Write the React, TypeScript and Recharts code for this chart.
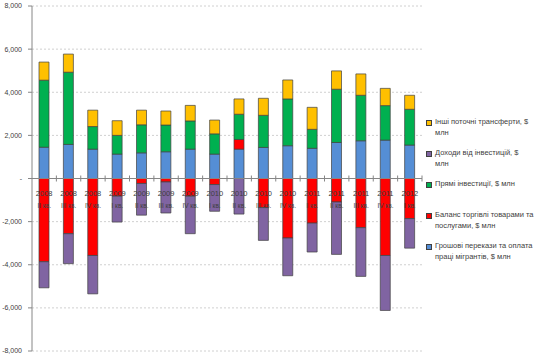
import { BarChart, Bar, XAxis, YAxis, CartesianGrid, ReferenceLine } from "recharts";

const years = ["2008", "2008", "2008", "2009", "2009", "2009", "2009", "2010", "2010", "2010", "2010", "2011", "2011", "2011", "2011", "2012"];
const quarters = ["II кв.", "III кв.", "IV кв.", "I кв.", "II кв.", "III кв.", "IV кв.", "I кв.", "II кв.", "III кв.", "IV кв.", "I кв.", "II кв.", "III кв.", "IV кв.", "I кв."];

// $ млн
const remittances = [1450, 1580, 1360, 1130, 1190, 1240, 1360, 1130, 1360, 1440, 1520, 1400, 1670, 1750, 1780, 1550];
const tradeBalance = [-3860, -2560, -3570, -820, -230, -160, -820, -280, 450, -1350, -2760, -2070, -1090, -2280, -3570, -1860];
const fdi = [3110, 3350, 1050, 870, 1300, 1240, 1310, 940, 1170, 1490, 2170, 880, 2470, 2110, 1600, 1660];
const investIncome = [-1210, -1390, -1780, -1200, -1470, -1440, -1740, -1240, -1650, -1520, -1750, -1340, -2430, -2260, -2550, -1370];
const otherTransfers = [840, 840, 760, 680, 680, 650, 720, 640, 710, 790, 880, 1020, 850, 990, 800, 650];

const yTicks = [-8000, -6000, -4000, -2000, 0, 2000, 4000, 6000, 8000];

const series = [
  { key: "remit", name: "Грошові перекази та оплата праці мігрантів, $ млн", color: "#558ED5", values: remittances },
  { key: "trade", name: "Баланс торгівлі товарами та послугами, $ млн", color: "#FF0000", values: tradeBalance },
  { key: "fdi", name: "Прямі інвестиції, $ млн", color: "#00B050", values: fdi },
  { key: "income", name: "Доходи від інвестицій, $ млн", color: "#8064A2", values: investIncome },
  { key: "other", name: "Інші поточні трансферти, $ млн", color: "#FFC000", values: otherTransfers },
];

const data = years.map((y, i) => {
  const row: any = { label: `${y} ${quarters[i]}`, year: y, quarter: quarters[i] };
  series.forEach((s) => (row[s.key] = s.values[i]));
  return row;
});

const W = 540;
const H = 358;
const X_AXIS_H = 1;
const MARGIN = { top: 6, right: 118, bottom: 6, left: 0 };
const Y_AXIS_W = 32;
const PLOT_W = W - MARGIN.left - MARGIN.right - Y_AXIS_W;
const PLOT_H = H - MARGIN.top - MARGIN.bottom - X_AXIS_H;
const ZERO_Y = MARGIN.top + PLOT_H / 2;
const BAND = PLOT_W / years.length;
const FONT = "'Liberation Sans', Arial, sans-serif";

const CategoryTick = (props: any) => {
  const { x, index, payload } = props;
  const row = data[index ?? payload?.index ?? 0];
  return (
    <g>
      <line x1={x + BAND / 2} x2={x + BAND / 2} y1={ZERO_Y - 3} y2={ZERO_Y + 3} stroke="#868686" />
      <text x={x} y={ZERO_Y + 17} textAnchor="middle" fontSize={7.5} fill="#404040" fontFamily={FONT}>
        {row.year}
      </text>
      <text x={x} y={ZERO_Y + 29} textAnchor="middle" fontSize={6.5} fill="#404040" fontFamily={FONT}>
        {row.quarter}
      </text>
    </g>
  );
};

export default function App() {
  const legendItems = [...series].reverse();
  return (
    <div style={{ position: "relative", width: W, height: H, background: "#fff" }}>
      <style>{`body{margin:0}`}</style>
      <BarChart width={W} height={H} data={data} margin={MARGIN} stackOffset="sign" barSize={10}>
        <CartesianGrid vertical={false} stroke="#d0d0d0" strokeDasharray="2 2" />
        <ReferenceLine y={0} stroke="#868686" />
        <XAxis dataKey="label" height={X_AXIS_H} axisLine={false} tickLine={false} tick={CategoryTick} interval={0} />
        <YAxis
          width={Y_AXIS_W}
          domain={[-8000, 8000]}
          ticks={yTicks}
          interval={0}
          stroke="#868686"
          tickSize={4}
          tickMargin={6}
          tick={{ fontSize: 7, fill: "#404040", fontFamily: FONT }}
          tickFormatter={(v: number) => (v === 0 ? "-" : v.toLocaleString("en-US"))}
        />
        {series.map((s) => (
          <Bar
            key={s.key}
            dataKey={s.key}
            name={s.name}
            stackId="a"
            fill={s.color}
            stroke="#404040"
            strokeWidth={0.7}
            isAnimationActive={false}
          />
        ))}
      </BarChart>

      {/* Legend */}
      <div style={{ position: "absolute", left: 426, top: 117, width: 108, fontFamily: FONT, fontSize: 7.5, color: "#404040" }}>
        {legendItems.map((s) => (
          <div key={s.key} style={{ height: 31, display: "flex", alignItems: "flex-start", lineHeight: "10.5px" }}>
            <span
              style={{
                width: 4,
                height: 4,
                marginTop: 3,
                marginRight: 3,
                flexShrink: 0,
                background: s.color,
                border: "0.7px solid #404040",
              }}
            />
            <span>{s.name}</span>
          </div>
        ))}
      </div>
    </div>
  );
}
